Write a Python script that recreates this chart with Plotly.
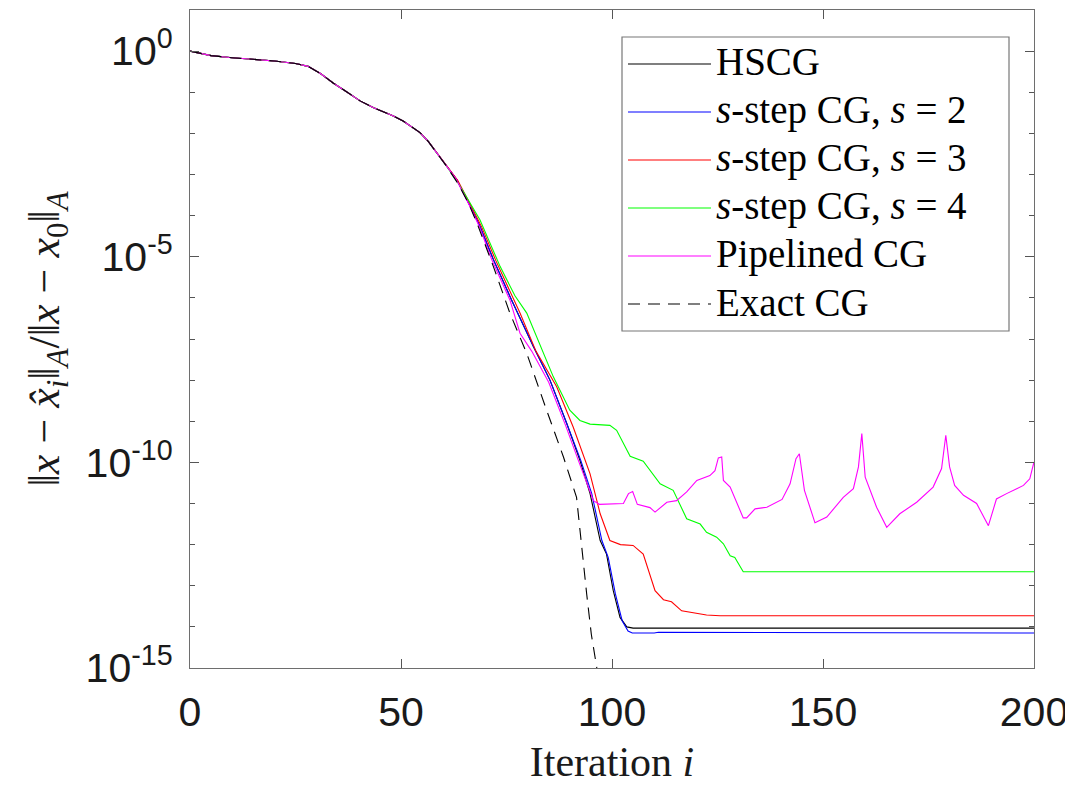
import plotly.graph_objects as go

# ---------------- data (log10 of relative A-norm error) ----------------
common_i = [0, 5, 10, 15, 20, 25, 28, 31, 34, 37, 40.3, 43.4, 46, 48.2, 50.5, 52.9, 54.5, 56.5, 58.5, 60.8]
common_log = [0, -0.11, -0.16, -0.2, -0.24, -0.3, -0.37, -0.55, -0.78, -0.98, -1.21, -1.37, -1.48, -1.58,
              -1.7, -1.86, -1.98, -2.2, -2.47, -2.8]

hscg_i = [63.2, 66.4, 68.7, 71.9, 76.2, 81.4, 85.3, 89.3, 92.4, 94.8, 97.2, 98.7, 100.3, 101.9, 103.5, 105, 200]
hscg_log = [-3.12, -3.77, -4.26, -5.07, -6.05, -7.19, -8.0, -9.06, -9.95, -10.76, -11.9, -12.23, -13.12,
            -13.77, -14.0, -14.03, -14.03]

s2_i = [63.2, 66.4, 68.7, 71.9, 76.2, 81.4, 85.3, 89.3, 92.6, 95.2, 97.6, 99.1, 100.8, 102.4, 103.8, 104.8,
        110, 111, 200]
s2_log = [-3.12, -3.77, -4.26, -5.07, -6.05, -7.19, -8.0, -9.06, -9.95, -10.76, -11.9, -12.31, -13.2,
          -13.85, -14.1, -14.15, -14.15, -14.13, -14.15]

s3_i = [63.5, 66.8, 69, 72.5, 78.2, 82, 86.9, 90.8, 94.8, 97.2, 99.5, 102, 105, 107.4, 110.2, 112.2, 114.1,
        116.5, 119.3, 122.4, 125.6, 200]
s3_log = [-3.15, -3.8, -4.25, -5.1, -6.37, -7.3, -8.16, -9.14, -10.28, -11.25, -11.9, -12.0, -12.02, -12.23,
          -13.12, -13.34, -13.39, -13.61, -13.66, -13.71, -13.73, -13.73]

s4_i = [64, 68.7, 73.5, 77, 79.8, 82.1, 86.1, 90, 92.4, 94.8, 99.5, 101.1, 104.3, 107.4, 109, 111.4, 114.5,
        117.7, 120.9, 122.4, 124.8, 126.4, 128, 129.1, 131.1, 200]
s4_log = [-3.28, -4.1, -5.24, -5.95, -6.37, -6.94, -7.92, -8.73, -8.98, -9.07, -9.1, -9.22, -9.85, -9.97,
          -10.2, -10.52, -10.68, -11.37, -11.5, -11.7, -11.82, -11.98, -12.27, -12.31, -12.66, -12.66]

pipe_i = [63, 66.2, 68.5, 71.5, 75.8, 78.2, 81, 85, 89, 92.2, 94.3, 95.6, 97, 102.7, 103.9, 104.9, 106, 109,
          110.2, 113, 115.3, 117.7, 120.1, 123.2, 124.4, 125.2, 126, 126.4, 128, 131.1, 131.9, 133.9, 136.7,
          140.3, 142.2, 143.6, 144.4, 145.6, 148.1, 150.9, 154.8, 157.2, 158.4, 159.2, 160, 162.7, 165.1,
          168.2, 172.2, 176.1, 178.1, 179.1, 180, 181.2, 183.3, 186.4, 189.2, 191.1, 193.5, 197.5, 199, 200]
pipe_log = [-3.1, -3.75, -4.25, -5.07, -6.05, -6.86, -7.3, -8.05, -9.1, -10.0, -10.6, -10.93, -11.02, -11.0,
            -10.76, -10.71, -11.02, -11.1, -11.21, -10.97, -10.93, -10.72, -10.44, -10.32, -10.2, -9.89,
            -9.87, -10.44, -10.6, -11.35, -11.35, -11.13, -11.09, -10.9, -10.52, -9.91, -9.79, -10.68,
            -11.47, -11.33, -10.85, -10.64, -10.11, -9.3, -10.36, -11.09, -11.58, -11.25, -10.97, -10.6,
            -10.15, -9.34, -10.11, -10.56, -10.8, -11.0, -11.54, -10.89, -10.76, -10.56, -10.4, -9.99]

exact_i = [63.5, 66, 68, 71.9, 75.8, 79.8, 84.5, 88.5, 91.6, 92.8, 94, 95.1, 96.4, 97]
exact_log = [-3.22, -3.7, -4.18, -5.24, -6.37, -7.35, -8.73, -9.87, -10.85, -12.06, -13.2, -14.18, -15.0,
             -15.6]

names = ["HSCG", "<i>s</i>-step CG, <i>s</i> = 2", "<i>s</i>-step CG, <i>s</i> = 3",
         "<i>s</i>-step CG, <i>s</i> = 4", "Pipelined CG", "Exact CG"]
colors = ["#000000", "#0000ff", "#ff0000", "#00ff00", "#ff00ff", "#000000"]
dashes = ["solid", "solid", "solid", "solid", "solid", "12px,8px"]

series = [(hscg_i, hscg_log), (s2_i, s2_log), (s3_i, s3_log), (s4_i, s4_log),
          (pipe_i, pipe_log), (exact_i, exact_log)]

y_tickvals = [1e-15, 1e-10, 1e-5, 1]
y_ticktext = ["10<sup>-15</sup>", "10<sup>-10</sup>", "10<sup>-5</sup>", "10<sup>0</sup>"]
x_tickvals = [0, 50, 100, 150, 200]

fig = go.Figure()
for (xi, yl), nm, c, d in zip(series, names, colors, dashes):
    xs = common_i + xi
    ys = [10 ** v for v in common_log + yl]
    fig.add_trace(go.Scatter(x=xs, y=ys, mode="lines", name=nm, showlegend=False,
                             line=dict(color=c, width=1.1, dash=d)))

# page body has an 8px margin: work in page pixels, then shift
OFF = 8
W, H = 1073 - OFF, 785 - OFF
L, R, T, B = 190, 1034, 10, 668   # plot box in page pixels


def px(x):
    return (x - L) / (R - L)


def py(y):
    return (B - y) / (B - T)


shapes = [dict(type="rect", xref="paper", yref="paper", x0=px(622), x1=px(1009), y0=py(37), y1=py(331),
               line=dict(color="#777777", width=1.2), fillcolor="white", layer="above")]
annotations = []
rows = [64, 112, 160, 208, 256, 304]
for k, (nm, c, d) in enumerate(zip(names, colors, dashes)):
    shapes.append(dict(type="line", xref="paper", yref="paper", x0=px(628), x1=px(711),
                       y0=py(rows[k]), y1=py(rows[k]), layer="above",
                       line=dict(color=c, width=1.2, dash=d)))
    annotations.append(dict(xref="paper", yref="paper", x=px(714), y=py(rows[k] - 2), xanchor="left",
                            yanchor="middle", showarrow=False, text=nm,
                            font=dict(family="Liberation Serif", size=39, color="black")))

axis_common = dict(showline=True, linecolor="#6e6e6e", linewidth=1.2, mirror="ticks", ticks="inside",
                   tickcolor="#555555", tickwidth=1, showgrid=False, zeroline=False,
                   tickfont=dict(family="Liberation Sans, Arial", size=41, color="#1a1a1a"))

fig.update_layout(
    width=W, height=H,
    margin=dict(l=L - OFF, r=W - (R - OFF), t=T - OFF, b=H - (B - OFF), pad=0),
    paper_bgcolor="white", plot_bgcolor="white",
    shapes=shapes, annotations=annotations,
    xaxis=dict(range=[0, 200], tickvals=x_tickvals, ticklen=9, ticklabelstandoff=8,
               title=dict(text="Iteration <i>i</i>", standoff=17,
                          font=dict(family="Liberation Serif", size=42, color="#1a1a1a")),
               **axis_common),
    yaxis=dict(type="log", range=[-15, 1], tickvals=y_tickvals, ticktext=y_ticktext, ticklen=9,
               ticklabelstandoff=8,
               minor=dict(tickmode="array", ticks="inside", ticklen=5, tickcolor="#555555",
                          tickvals=[10 ** (-k) for k in range(1, 15) if k % 5 != 0] + [10]),
               title=dict(text="‖<i>x</i> − <i>x̂</i><sub><i>i</i></sub>‖<sub><i>A</i></sub>/‖<i>x</i> − "
                               "<i>x</i><sub>0</sub>‖<sub><i>A</i></sub>", standoff=12,
                          font=dict(family="Liberation Serif", size=44, color="#1a1a1a")),
               **axis_common),
)

fig.write_html("out.html")
